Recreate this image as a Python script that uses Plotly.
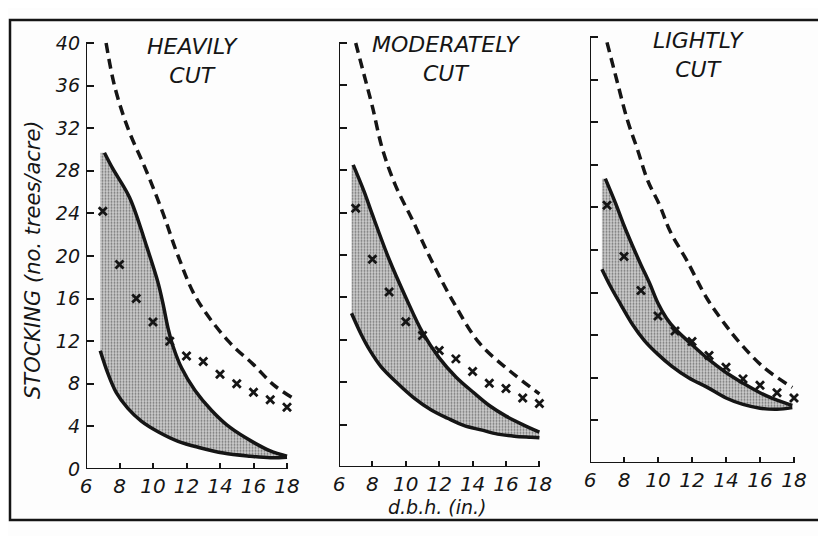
import plotly.graph_objects as go

# ---------------- data ----------------
panels = ["HEAVILY<br>CUT", "MODERATELY<br>CUT", "LIGHTLY<br>CUT"]
dbh_marks = [7, 8, 9, 10, 11, 12, 13, 14, 15, 16, 17, 18]

# Heavily cut
heavy_dash_x = [7.2, 7.7, 8.5, 9.6, 10.6, 11.5, 12.6, 14.5, 16.0, 17.2, 18.3]
heavy_dash_y = [40, 36, 32, 28, 24, 20, 16, 12, 9.8, 7.9, 6.7]
heavy_up_x = [7.1, 7.6, 8.6, 9.6, 10.3, 10.6, 10.9, 11.2, 11.7, 12.5, 13.5, 14.6, 16.0, 17.0, 18.0]
heavy_up_y = [29.7, 28.2, 25.5, 21.0, 17.5, 15.5, 13.2, 11.5, 9.5, 7.4, 5.5, 3.9, 2.5, 1.7, 1.2]
heavy_lo_x = [6.85, 7.3, 7.8, 8.5, 9.3, 10.3, 11.5, 12.8, 14.2, 15.8, 17.0, 18.0]
heavy_lo_y = [11.1, 9.0, 7.2, 5.7, 4.5, 3.5, 2.6, 2.0, 1.5, 1.2, 1.05, 1.1]
heavy_obs = [24.2, 19.2, 16.0, 13.8, 12.0, 10.6, 10.1, 8.9, 8.0, 7.2, 6.5, 5.8]

# Moderately cut
mod_dash_x = [7.0, 7.5, 8.0, 8.6, 9.4, 10.4, 11.5, 12.8, 14.4, 16.2, 18.0]
mod_dash_y = [40, 37, 34, 30, 26.5, 23.3, 19.6, 15.7, 11.7, 9.1, 6.9]
mod_up_x = [6.85, 7.5, 8.0, 9.0, 10.0, 11.0, 12.0, 13.0, 14.0, 15.0, 16.0, 17.0, 18.0]
mod_up_y = [28.5, 26.0, 23.8, 19.6, 16.0, 12.7, 10.3, 8.5, 7.1, 5.8, 4.8, 4.0, 3.3]
mod_lo_x = [6.75, 7.3, 7.85, 8.5, 9.5, 10.5, 11.5, 12.5, 13.5, 14.5, 15.5, 16.5, 17.5, 18.0]
mod_lo_y = [14.5, 12.6, 11.0, 9.5, 7.9, 6.5, 5.4, 4.6, 3.9, 3.5, 3.1, 2.9, 2.8, 2.75]
mod_obs = [24.4, 19.6, 16.5, 13.7, 12.4, 11.0, 10.2, 9.0, 7.9, 7.4, 6.5, 6.0]

# Lightly cut
light_dash_x = [7.0, 7.6, 8.2, 8.8, 9.4, 10.1, 10.7, 11.7, 12.9, 14.0, 14.7, 16.2, 17.9]
light_dash_y = [39.5, 35.8, 32.2, 29.4, 26.5, 24.2, 21.8, 19.0, 15.4, 12.9, 11.5, 9.0, 7.1]
light_up_x = [6.9, 7.5, 8.0, 8.5, 9.0, 9.5, 10.0, 10.5, 11.0, 12.0, 13.0, 14.0, 15.0, 16.0, 17.0, 17.9]
light_up_y = [26.7, 24.4, 22.3, 20.4, 18.6, 16.9, 15.0, 13.6, 12.6, 11.1, 9.7, 8.5, 7.5, 6.6, 5.9, 5.4]
light_lo_x = [6.7, 7.2, 7.8, 8.5, 9.2, 10.0, 10.8, 11.8, 12.9, 14.0, 15.0, 16.0, 17.0, 17.9]
light_lo_y = [18.2, 16.6, 14.9, 13.0, 11.5, 10.2, 9.1, 8.0, 7.1, 6.1, 5.5, 5.15, 5.05, 5.2]
light_obs = [24.2, 19.4, 16.2, 13.8, 12.4, 11.4, 10.1, 9.0, 7.9, 7.3, 6.6, 6.1]

y_ticks = [0, 4, 8, 12, 16, 20, 24, 28, 32, 36, 40]
x_ticks = [6, 8, 10, 12, 14, 16, 18]

series = [
    (heavy_dash_x, heavy_dash_y, heavy_up_x, heavy_up_y, heavy_lo_x, heavy_lo_y, heavy_obs),
    (mod_dash_x, mod_dash_y, mod_up_x, mod_up_y, mod_lo_x, mod_lo_y, mod_obs),
    (light_dash_x, light_dash_y, light_up_x, light_up_y, light_lo_x, light_lo_y, light_obs),
]

# ---------------- layout geometry (pixels) ----------------
# the page body has an 8px margin, so the figure is 8px smaller and all
# reference pixel positions are shifted by OFF
OFF = 8
W, H = 826 - OFF, 536 - OFF
XR = [6, 19]
YR = [0, 41]
# reference-pixel origin (x=6, y=0) and scale per unit for each panel
geo = [
    (86, 469, 16.75, 10.65),
    (339, 467, 16.7, 10.6),
    (590, 463, 17.0, 10.65),
]
title_pos = [(192, 61), (446, 59), (698, 55)]


def fx(px):
    return (px - OFF) / W


def fy(py):
    return 1 - (py - OFF) / H


INK = "#151515"
FONT = "DejaVu Sans"

fig = go.Figure()
layout = dict(
    template="none",
    width=W, height=H,
    margin=dict(l=0, r=0, t=0, b=0, autoexpand=False),
    paper_bgcolor="#fdfdfd",
    plot_bgcolor="rgba(0,0,0,0)",
    showlegend=False,
    font=dict(family=FONT, color=INK),
)
shapes = []
annotations = []

for i, (g, s) in enumerate(zip(geo, series)):
    x0p, y0p, sx, sy = g
    dx, dy, ux, uy, lx, ly, obs = s
    xa = "x" if i == 0 else f"x{i+1}"
    ya = "y" if i == 0 else f"y{i+1}"
    dom_x = [fx(x0p), fx(x0p + (XR[1] - XR[0]) * sx)]
    dom_y = [fy(y0p), fy(y0p - (YR[1] - YR[0]) * sy)]
    key = "" if i == 0 else str(i + 1)
    layout["xaxis" + key] = dict(
        domain=dom_x, range=XR, anchor=ya, showgrid=False, zeroline=False,
        showline=False, automargin=False, tickmode="array", tickvals=x_ticks,
        ticktext=[str(v) for v in x_ticks], ticks="inside", ticklen=6,
        tickwidth=2, tickcolor=INK, ticklabelstandoff=3,
        tickfont=dict(family=FONT, size=20, color=INK, style="italic"),
    )
    layout["yaxis" + key] = dict(
        domain=dom_y, range=YR, anchor=xa, showgrid=False, zeroline=False,
        showline=False, automargin=False, tickmode="array", tickvals=y_ticks,
        ticktext=[str(v) for v in y_ticks] if i == 0 else [""] * len(y_ticks),
        showticklabels=(i == 0), ticks="inside", ticklen=8, tickwidth=2,
        tickcolor=INK, ticklabelstandoff=5,
        tickfont=dict(family=FONT, size=19, color=INK, style="italic"),
    )
    # axis lines
    shapes.append(dict(type="line", xref=xa, yref=ya, x0=6, x1=6, y0=0, y1=40,
                       line=dict(color=INK, width=2)))
    shapes.append(dict(type="line", xref=xa, yref=ya, x0=6, x1=18, y0=0, y1=0,
                       line=dict(color=INK, width=2)))
    # shaded band polygon
    px = [lx[0]] + ux + lx[::-1]
    py = [uy[0]] + uy + ly[::-1]
    fig.add_trace(go.Scatter(
        x=px, y=py, xaxis=xa, yaxis=ya, mode="none", fill="toself",
        fillcolor="#c2c2c2",
        fillpattern=dict(shape=".", bgcolor="#cecece", fgcolor="#737373",
                         size=3, solidity=0.35),
        hoverinfo="skip"))
    fig.add_trace(go.Scatter(x=ux, y=uy, xaxis=xa, yaxis=ya, mode="lines",
                             line=dict(color=INK, width=3.5, shape="spline")))
    fig.add_trace(go.Scatter(x=lx, y=ly, xaxis=xa, yaxis=ya, mode="lines",
                             line=dict(color=INK, width=3.5, shape="spline")))
    fig.add_trace(go.Scatter(x=dx, y=dy, xaxis=xa, yaxis=ya, mode="lines",
                             line=dict(color=INK, width=3.5, dash="10px,6px",
                                       shape="spline")))
    fig.add_trace(go.Scatter(x=dbh_marks, y=obs, xaxis=xa, yaxis=ya,
                             mode="markers",
                             marker=dict(symbol="x-thin-open", size=8,
                                         color=INK,
                                         line=dict(color=INK, width=2.8))))
    tx, ty = title_pos[i]
    annotations.append(dict(
        xref="paper", yref="paper", x=fx(tx), y=fy(ty), text=panels[i],
        showarrow=False, xanchor="center", yanchor="middle",
        font=dict(family=FONT, size=22, color=INK, style="italic"),
        align="center"))

# axis titles
annotations.append(dict(
    xref="paper", yref="paper", x=fx(33), y=fy(260),
    text="STOCKING (no. trees/acre)", textangle=-90, showarrow=False,
    xanchor="center", yanchor="middle",
    font=dict(family=FONT, size=21, color=INK, style="italic")))
annotations.append(dict(
    xref="paper", yref="paper", x=fx(437), y=fy(507),
    text="d.b.h. (in.)", showarrow=False, xanchor="center", yanchor="middle",
    font=dict(family=FONT, size=19, color=INK, style="italic")))

# outer frame
shapes.append(dict(type="rect", xref="paper", yref="paper",
                   x0=fx(10), x1=fx(823), y0=fy(520), y1=fy(20),
                   line=dict(color=INK, width=2.5)))

layout["shapes"] = shapes
layout["annotations"] = annotations
fig.update_layout(**layout)
fig.write_html("out.html")
